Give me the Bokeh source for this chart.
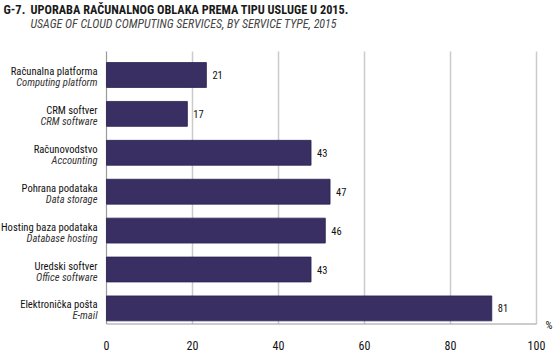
import numpy as np
from bokeh.plotting import figure
from bokeh.models import ColumnDataSource, Range1d, LabelSet, Label
from bokeh.core.properties import value
from bokeh.embed import file_html
from bokeh.resources import INLINE

# ---- data (top to bottom) ----
labels_hr = ["Računalna platforma", "CRM softver", "Računovodstvo",
             "Pohrana podataka", "Hosting baza podataka", "Uredski softver",
             "Elektronička pošta"]
labels_en = ["Computing platform", "CRM software", "Accounting",
             "Data storage", "Database hosting", "Office software", "E-mail"]
values = [21, 17, 43, 47, 46, 43, 81]
x_ticks = [0, 20, 40, 60, 80, 100]
x_tick_labels = ["0", "20", "40", "60", "80", "100"]

title_no = "G-7."
title_hr = "UPORABA RAČUNALNOG OBLAKA PREMA TIPU USLUGE U 2015."
title_en = "USAGE OF CLOUD COMPUTING SERVICES, BY SERVICE TYPE, 2015"
unit = "%"

FONT = "Roboto Condensed"
BAR = "#3a2f63"

# ---- layout (pixels of the 556x352 canvas) ----
W, H = 556, 352
X0_PX, X100_PX = 106, 536          # where 0 and 100 sit
ROW_PX = 38.9                      # spacing of bars
TOP_BAR_PX = 74.5                  # centre of the first bar
AXIS_PX, TICKLAB_PX, GRID_TOP_PX = 323.5, 345, 51

n = len(values)
pos = np.arange(n)[::-1].astype(float)
ppx = (X100_PX - X0_PX) / 100.0
def ydat(py):
    return (n - 1) - (py - TOP_BAR_PX) / ROW_PX

src = ColumnDataSource(dict(y=pos, v=values, hr=labels_hr, en=labels_en,
                            txt=[str(v) for v in values]))

p = figure(width=W, height=H, output_backend="svg", toolbar_location=None,
           x_range=Range1d(-X0_PX / ppx, 100 + (W - X100_PX) / ppx),
           y_range=Range1d(ydat(H), ydat(0)),
           min_border=0)
p.axis.visible = False
p.grid.visible = False
p.outline_line_color = None
p.background_fill_color = "white"
p.border_fill_color = "white"

# bars of the original graphic are drawn on a slightly stretched scale
p.extra_x_ranges = {"bar": Range1d(-X0_PX / ppx * 0.904,
                                   (100 + (W - X100_PX) / ppx) * 0.904)}

# grid lines, axis line, left line
y_axis = ydat(AXIS_PX)
y_gtop = ydat(GRID_TOP_PX)
p.segment(x0=x_ticks[1:], x1=x_ticks[1:], y0=y_axis, y1=y_gtop,
          line_color="#cbcbcb", line_width=1.5)
p.segment(x0=[0], x1=[0], y0=[y_axis], y1=[y_gtop], line_color="#9a9a9a",
          line_width=1.2)
p.segment(x0=[0], x1=[100], y0=[y_axis], y1=[y_axis], line_color="#9a9a9a",
          line_width=1.2)

p.hbar(y="y", left=0, right="v", height=0.64, source=src, x_range_name="bar",
       fill_color=BAR, line_color="#2a2250", line_width=0.8)

# tick labels
p.text(x=x_ticks, y=[ydat(TICKLAB_PX)] * len(x_ticks), text=x_tick_labels,
       text_align="center", text_baseline="middle", text_font=value(FONT),
       text_font_size="12px", text_color="#111111")
p.text(x=[100], y=[y_axis], text=[unit], x_offset=9, y_offset=1,
       text_align="left", text_baseline="middle", text_font=value(FONT),
       text_font_size="11px", text_color="#111111")

# value labels
p.add_layout(LabelSet(x="v", y="y", text="txt", source=src, x_range_name="bar",
                      x_offset=6, text_baseline="middle",
                      text_font=value(FONT), text_font_size="10.5px",
                      text_color="#111111"))

# category labels (screen units measured from the frame's bottom-left)
p.add_layout(LabelSet(x=X0_PX - 9, y="y", x_units="screen", text="hr",
                      source=src, y_offset=3.5, text_align="right",
                      text_baseline="middle", text_font=value(FONT),
                      text_font_size="10.6px", text_color="#111111"))
p.add_layout(LabelSet(x=X0_PX - 9, y="y", x_units="screen", text="en",
                      source=src, y_offset=-7.5, text_align="right",
                      text_baseline="middle", text_font=value(FONT),
                      text_font_size="10.6px", text_font_style="italic",
                      text_color="#333333"))

# titles
p.add_layout(Label(x=3, y=H - 9, x_units="screen", y_units="screen",
                   text=title_no, text_font=FONT, text_font_size="12.5px",
                   text_font_style="bold", text_color="#1a1a1a",
                   text_baseline="middle"))
p.add_layout(Label(x=30, y=H - 9, x_units="screen", y_units="screen",
                   text=title_hr, text_font=FONT, text_font_size="12.3px",
                   text_font_style="bold", text_color="#1a1a1a",
                   text_baseline="middle"))
p.add_layout(Label(x=30, y=H - 23, x_units="screen", y_units="screen",
                   text=title_en, text_font=FONT, text_font_size="12px",
                   text_font_style="italic", text_color="#444444",
                   text_baseline="middle"))

open("out.html", "w").write(file_html(p, INLINE))
